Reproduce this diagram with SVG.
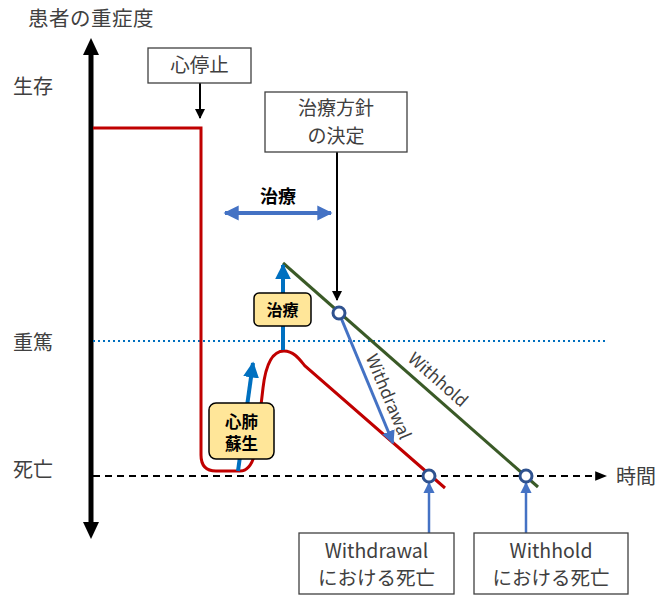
<svg xmlns="http://www.w3.org/2000/svg" width="659" height="595" viewBox="0 0 659 595">
<style>
text{font-family:"Noto Sans CJK JP","Noto Sans",sans-serif;fill:#404040}
.lbl{font-size:20px}
.box{fill:#fff;stroke:#404040;stroke-width:1.3}
.bt{font-size:19.5px;text-anchor:middle}
.yb{fill:#FFE699;stroke:#000;stroke-width:1.5}
.yt{font-size:16px;font-weight:bold;text-anchor:middle;fill:#000}
.circ{fill:#fff;stroke:#2F528F;stroke-width:3}
</style>
<defs>
<marker id="ak" viewBox="0 0 10 10" refX="9" refY="5" markerWidth="5" markerHeight="5" orient="auto"><path d="M0,0L10,5L0,10Z" fill="#000"/></marker>
<marker id="ad" viewBox="0 0 10 10" refX="9" refY="5" markerWidth="6" markerHeight="6" orient="auto"><path d="M0,1L10,5L0,9Z" fill="#000"/></marker>
<marker id="abl" viewBox="0 0 10 10" refX="9" refY="5" markerWidth="4" markerHeight="4" orient="auto"><path d="M0,0L10,5L0,10Z" fill="#0070C0"/></marker>
<marker id="ab2" viewBox="0 0 10 10" refX="9" refY="5" markerWidth="3.8" markerHeight="3.8" orient="auto-start-reverse"><path d="M0,0L10,5L0,10Z" fill="#4472C4"/></marker>
<marker id="ab3" viewBox="0 0 10 10" refX="9" refY="5" markerWidth="4.5" markerHeight="4.5" orient="auto"><path d="M0,0L10,5L0,10Z" fill="#4472C4"/></marker>
</defs>

<g id="labels">
<text class="lbl" x="28" y="26" style="font-size:20.5px;letter-spacing:0.5px">患者の重症度</text>
<text class="lbl" x="13" y="94">生存</text>
<text class="lbl" x="13" y="350">重篤</text>
<text class="lbl" x="13" y="477">死亡</text>
<text class="lbl" x="616" y="484">時間</text>
</g>

<g id="connectors">
<line x1="91" y1="54" x2="91" y2="523" stroke="#000" stroke-width="5"/>
<path d="M91,38L99,55L83,55Z" fill="#000"/>
<path d="M91,539L99,522L83,522Z" fill="#000"/>
<line x1="93" y1="341" x2="607" y2="341" stroke="#0070C0" stroke-width="2" stroke-dasharray="2,3"/>
<line x1="93" y1="476" x2="606" y2="476" stroke="#000" stroke-width="2" stroke-dasharray="7,5" marker-end="url(#ad)"/>
<path d="M93,128H201V455Q201,471 216,471H240Q252,471 256,448L263,388C266,362 274,351 284,351C294,351 300,360 305,366L445,488" fill="none" stroke="#C00000" stroke-width="3"/>
<line x1="283" y1="263" x2="538" y2="487" stroke="#3A5A27" stroke-width="3"/>
<line x1="283" y1="350" x2="283" y2="265" stroke="#0070C0" stroke-width="4" marker-end="url(#abl)"/>
<line x1="238" y1="471" x2="253" y2="363" stroke="#0070C0" stroke-width="4" marker-end="url(#abl)"/>
<line x1="339" y1="313" x2="393" y2="443" stroke="#4472C4" stroke-width="3" marker-end="url(#ab3)"/>
<line x1="225" y1="213" x2="331" y2="213" stroke="#4472C4" stroke-width="4" marker-start="url(#ab2)" marker-end="url(#ab2)"/>
<line x1="200" y1="83" x2="200" y2="118" stroke="#000" stroke-width="2" marker-end="url(#ak)"/>
<line x1="337" y1="152" x2="337" y2="300" stroke="#000" stroke-width="2" marker-end="url(#ak)"/>
<line x1="429" y1="533" x2="429" y2="483" stroke="#4472C4" stroke-width="2.5" marker-end="url(#ab3)"/>
<line x1="526" y1="533" x2="526" y2="483" stroke="#4472C4" stroke-width="2.5" marker-end="url(#ab3)"/>
<circle class="circ" cx="339" cy="313" r="6"/>
<circle class="circ" cx="429" cy="476" r="6"/>
<circle class="circ" cx="526" cy="476" r="6"/>
<text x="0" y="0" font-size="17" text-anchor="middle" transform="translate(383,399) rotate(67.3)">Withdrawal</text>
<text x="0" y="0" font-size="17" text-anchor="middle" transform="translate(434,384) rotate(41.3)">Withhold</text>
<text x="278" y="203" font-size="18" font-weight="bold" text-anchor="middle" style="fill:#000">治療</text>
</g>

<g id="cardiac-arrest">
<rect class="box" x="148" y="48" width="103" height="35"/>
<text class="bt" x="199.5" y="72">心停止</text>
</g>

<g id="decision">
<rect class="box" x="265" y="92" width="142" height="60"/>
<text class="bt" x="336" y="115" style="font-size:19px">治療方針</text>
<text class="bt" x="336" y="142.5" style="font-size:19px">の決定</text>
</g>

<g id="treatment">
<rect class="yb" x="254" y="293" width="57" height="33" rx="5"/>
<text class="yt" x="282.5" y="315.5">治療</text>
</g>

<g id="cpr">
<rect class="yb" x="209" y="403" width="65" height="56" rx="7"/>
<text class="yt" x="241.5" y="428" style="font-size:16.5px">心肺</text>
<text class="yt" x="241.5" y="450" style="font-size:16.5px">蘇生</text>
</g>

<g id="withdrawal-death">
<rect class="box" x="299" y="533" width="155" height="61"/>
<text class="bt" x="376.5" y="558">Withdrawal</text>
<text class="bt" x="376.5" y="585">における死亡</text>
</g>

<g id="withhold-death">
<rect class="box" x="474" y="533" width="154" height="61"/>
<text class="bt" x="551" y="558">Withhold</text>
<text class="bt" x="551" y="585">における死亡</text>
</g>
</svg>
